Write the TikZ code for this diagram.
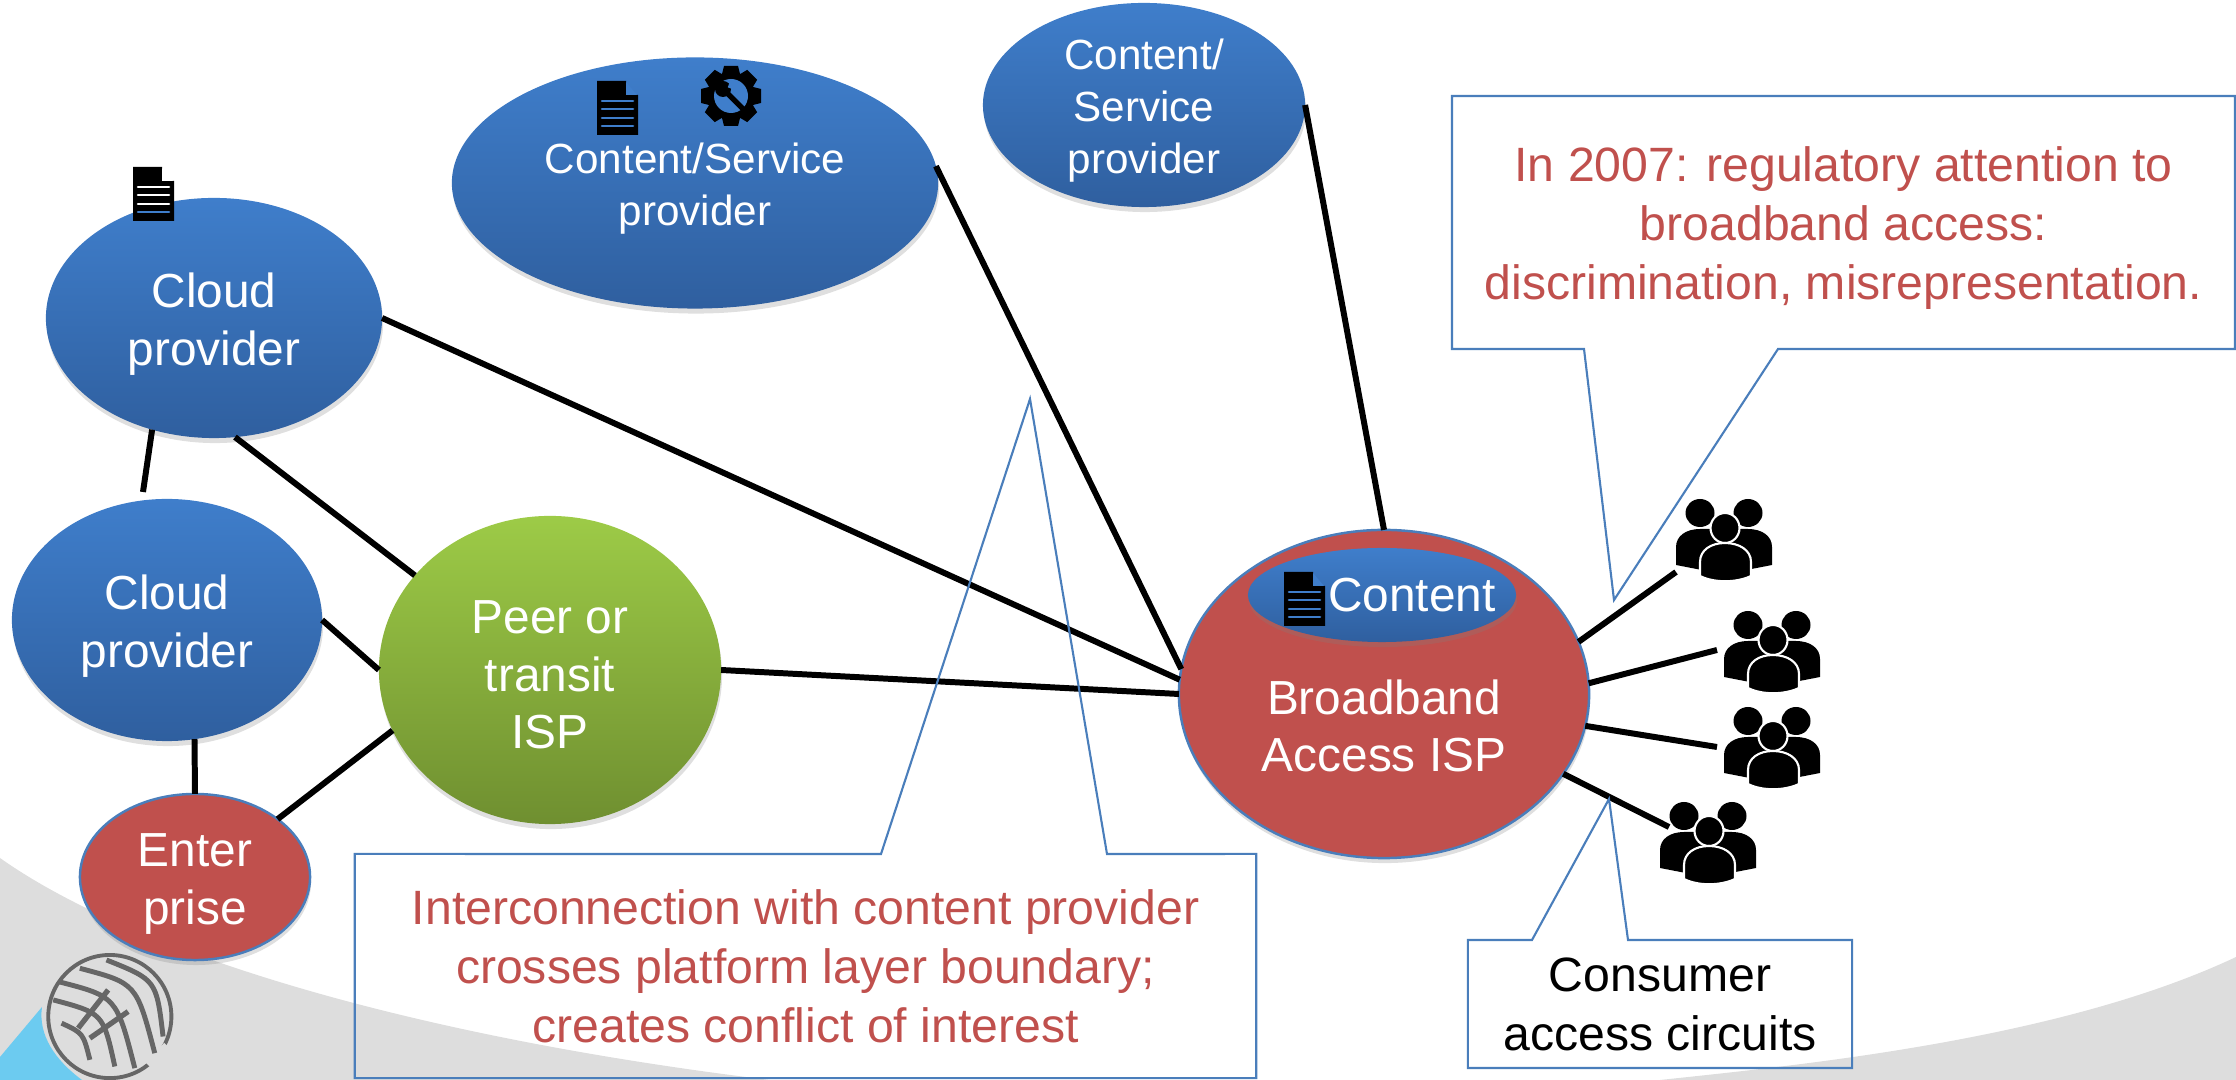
\documentclass[tikz,border=0pt]{standalone}
\usepackage{fontspec}
\setmainfont{Liberation Sans}
\usetikzlibrary{shapes.geometric, shadows}
\definecolor{ovalTop}{HTML}{3F7ECB}
\definecolor{ovalBottom}{HTML}{2F5F9F}
\definecolor{greenTop}{HTML}{9DCB47}
\definecolor{greenBottom}{HTML}{6F8F30}
\definecolor{ispRed}{HTML}{C0504D}
\definecolor{edgeBlue}{HTML}{4A7EBB}
\definecolor{swoosh}{HTML}{DDDDDD}
\definecolor{globeGray}{HTML}{666666}
\definecolor{skyBlue}{HTML}{6CCBF0}
\tikzset{
	softshadow/.style={drop shadow={opacity=0.25, shadow xshift=0.01cm, shadow yshift=-0.05cm}},
	oval/.style={ellipse, inner sep=0pt, outer sep=0pt, softshadow},
	blueoval/.style={oval, top color=ovalTop, bottom color=ovalBottom},
	greenoval/.style={oval, top color=greenTop, bottom color=greenBottom},
	redoval/.style={oval, fill=ispRed, draw=edgeBlue, line width=0.7pt},
	whitetext/.style={inner sep=0pt, align=center, text=white, font=\fontsize{13.6}{16.4}\selectfont},
	smalltext/.style={whitetext, font=\fontsize{12}{14.8}\selectfont},
	note/.style={inner sep=0pt, outer sep=0pt, align=center, font=\fontsize{13.7}{16.8}\selectfont},
	noteline/.style={edgeBlue, line width=0.6pt},
	link/.style={black, line width=1.7pt},
	pics/docicon/.style n args={3}{code={
		\fill[black] (0,0) -- (29,0) -- (29,14) -- (41,14) -- (41,54) -- (0,54) -- cycle;
		\fill[#1] (29,1) -- (40,14) -- (29,14) -- cycle;
		\foreach \y in {20,28,37}
			\draw[#2, line width=0.75pt, line cap=round] (5,\y) -- (36,\y);
		\draw[#3, line width=0.75pt, line cap=round] (5,45) -- (36,45);
	}},
	pics/gearicon/.style={code={
		\foreach \a in {0,45,...,315}
			\fill[black, rotate=\a] (-7,-30) -- (7,-30) -- (10,-18) -- (-10,-18) -- cycle;
		\fill[black] (0,0) circle [radius=24];
		\fill[ovalTop] (0,0) circle [radius=17];
		\draw[black, line width=1.5pt] (-4,-3) -- (15,16);
		\fill[black] (-8,-7) circle [radius=8];
		\fill[ovalTop, rotate=-20] (-6,-16) rectangle (3,-7);
	}},
	pics/usersicon/.style={code={
		\fill[black] (24,13) ellipse [x radius=14.5, y radius=14];
		\fill[black] (72,13) ellipse [x radius=14.5, y radius=14];
		\fill[black] (0,65) -- (0,47) .. controls (0,36) and (10,29) .. (24,29) -- (72,29)
			.. controls (86,29) and (96,36) .. (96,47) -- (96,65) -- (60,72) -- (36,72) -- cycle;
		\draw[white, line width=0.6pt, fill=black] (49,28) ellipse [x radius=14.5, y radius=15];
		\draw[white, line width=0.6pt, fill=black] (24,76) -- (24,62) .. controls (24,50) and (35,43) .. (49,43)
			.. controls (63,43) and (75,50) .. (75,62) -- (75,76) .. controls (60,83) and (38,83) .. (24,76) -- cycle;
	}}
}
\begin{document}
\begin{tikzpicture}[x=0.01cm, y=-0.01cm]
	\useasboundingbox (0,0) rectangle (2236,1080);

	\fill[swoosh] (0,858) .. controls (130,950) and (400,1035) .. (770,1080) -- (0,1080) -- cycle;
	\fill[swoosh] (1660,1080) .. controls (1800,1065) and (2060,1040) .. (2236,957) -- (2236,1080) -- cycle;
	\fill[skyBlue] (0,1057) -- (42,1007) .. controls (38,1035) and (55,1060) .. (82,1080) -- (0,1080) -- cycle;

	\begin{scope}[shift={(0,940)}, x=0.00333cm, y=-0.00333cm]
		\draw[globeGray, line width=1.1pt] (330,230) circle [radius=185];
		\draw[swoosh, line width=3pt] (505,320) -- (450,380);
		\foreach \a/\b/\c/\d/\e/\f in {
			320/60/470/120/490/290,
			240/85/410/130/465/340,
			175/125/350/170/405/385,
			160/180/310/220/345/380,
			185/250/250/280/270/360}
			\draw[globeGray, line width=1.4pt] (\a,\b) .. controls (\c,\d) .. (\e,\f);
		\draw[globeGray, line width=1.5pt] (325,150) -- (235,265);
		\draw[globeGray, line width=1.5pt] (385,215) -- (270,295);
	\end{scope}

	\node[blueoval, minimum width=3.36cm, minimum height=2.4cm] (cloudA) at (214,318) {};
	\node[blueoval, minimum width=3.1cm, minimum height=2.42cm] (cloudB) at (167,620) {};
	\node[blueoval, minimum width=4.86cm, minimum height=2.51cm] (serviceA) at (695,183) {};
	\node[blueoval, minimum width=3.22cm, minimum height=2.04cm] (serviceB) at (1144,105) {};
	\node[greenoval, minimum width=3.42cm, minimum height=3.08cm] (transit) at (550,670) {};
	\node[redoval, minimum width=2.3cm, minimum height=1.66cm] (enterprise) at (195,877) {};
	\node[redoval, minimum width=4.1cm, minimum height=3.28cm] (access) at (1384,694) {};

	\coordinate (gapCloud) at (143,492);
	\coordinate (usersEndA) at (1676,572);
	\coordinate (usersEndB) at (1717,650);
	\coordinate (usersEndC) at (1717,747);
	\coordinate (usersEndD) at (1669,827);
	\draw[link] (cloudA.241) -- (gapCloud);
	\draw[link] (cloudA.280) -- (transit.145);
	\draw[link] (cloudB.east) -- (transit.west);
	\draw[link] (cloudB.283) -- (enterprise.north);
	\draw[link] (enterprise.35) -- (transit.201);
	\draw[link] (transit.east) -- (access.west);
	\draw[link] (cloudA.east) -- (access.176);
	\draw[link] (serviceA.4) -- (access.173);
	\draw[link] (serviceB.east) -- (access.north);
	\foreach \a/\b in {15/usersEndA, 3/usersEndB, -9/usersEndC, -24/usersEndD}
		\draw[link] (access.\a) -- (\b);

	\node[whitetext] (cloudAText) at (214,324) {Cloud\\provider};
	\node[whitetext] (cloudBText) at (167,626) {Cloud\\provider};
	\node[smalltext] (serviceAText) at (695,189) {Content/Service\\provider};
	\node[smalltext] (serviceBText) at (1144,111) {Content/\\Service\\provider};
	\node[whitetext] (transitText) at (550,675) {Peer or\\transit\\ISP};
	\node[whitetext] (enterpriseText) at (195,884) {Enter\\prise};
	\node[whitetext] (accessText) at (1384,726) {Broadband\\Access ISP};
	\node[blueoval, minimum width=2.68cm, minimum height=0.94cm] (contentOval) at (1382,595) {};
	\node[whitetext] (contentText) at (1412,595) {Content};

	\pic at (1284,572) {docicon={ovalTop}{ovalTop}{ovalTop}};
	\pic at (597,81) {docicon={ovalTop}{ovalTop}{ovalTop}};
	\pic at (133,167) {docicon={white}{white}{ovalTop}};
	\pic at (731,96) {gearicon};
	\foreach \x/\y in {1676/500, 1724/612, 1724/708, 1660/803}
		\pic at (\x,\y) {usersicon};

	\node[note, text=ispRed, minimum width=9.01cm, minimum height=2.24cm] (noteCenter) at (805.5,966)
		{Interconnection with content provider\\crosses platform layer boundary;\\creates conflict of interest};
	\coordinate (tipCenter) at (1030,399);
	\draw[noteline] (noteCenter.north west) -- (881,854) -- (tipCenter) -- (1107,854) -- (noteCenter.north east)
		-- (noteCenter.south east) -- (noteCenter.south west) -- cycle;

	\node[note, text=ispRed, minimum width=7.83cm, minimum height=2.64cm] (noteRegulatory) at (1843.5,228)
		{In 2007: regulatory attention to\\broadband access:\\discrimination, misrepresentation.};
	\coordinate (tipRegulatory) at (1614,600);
	\draw[noteline] (1452,96) -- (2235,96) -- (2235,349)
		-- (1778,349) -- (tipRegulatory) -- (1584,349) -- (1452,349) -- cycle;

	\node[note, text=black, minimum width=3.84cm, minimum height=1.28cm] (noteCircuits) at (1660,1004)
		{Consumer\\access circuits};
	\coordinate (tipCircuits) at (1609,799);
	\draw[noteline] (noteCircuits.north west) -- (1532,940) -- (tipCircuits) -- (1628,940) -- (noteCircuits.north east)
		-- (noteCircuits.south east) -- (noteCircuits.south west) -- cycle;
\end{tikzpicture}
\end{document}
